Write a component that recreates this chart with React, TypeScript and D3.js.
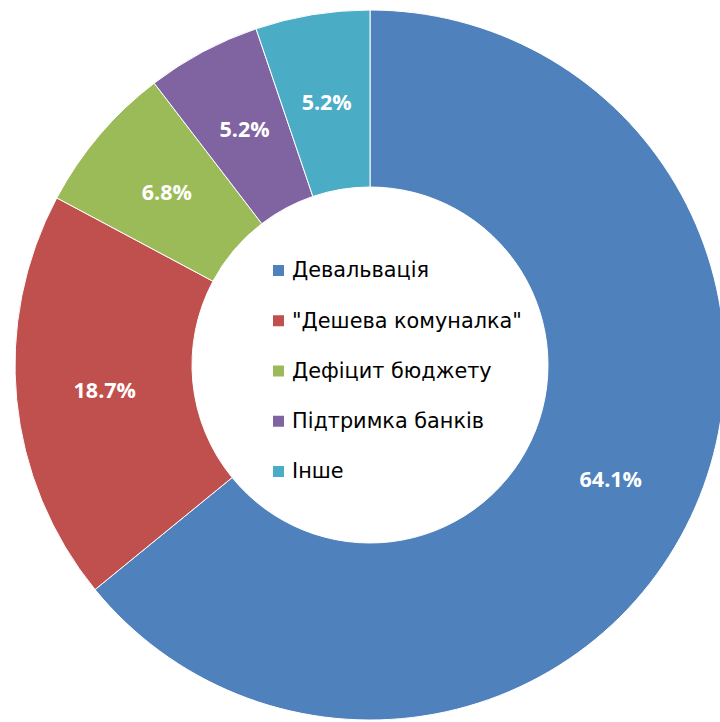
import React from "react";
import * as d3 from "d3";

const categories = ["Девальвація", "\"Дешева комуналка\"", "Дефіцит бюджету", "Підтримка банків", "Інше"];
const values = [64.1, 18.7, 6.8, 5.2, 5.2];
const labels = ["64.1%", "18.7%", "6.8%", "5.2%", "5.2%"];
const colors = ["#4F81BD", "#C0504D", "#9BBB59", "#8064A2", "#4BACC6"];

export default function App() {
  const W = 720, H = 722;
  const cx = 370, cy = 365, rOuter = 355, rInner = 178;
  const pie = d3.pie<number>().sort(null).value((d) => d);
  const arcs = pie(values);
  const arc = d3.arc<d3.PieArcDatum<number>>().innerRadius(rInner).outerRadius(rOuter);
  const legendY = d3.scalePoint<number>().domain(d3.range(categories.length)).range([270, 471]);
  return (
    <svg width={W} height={H} style={{ position: "absolute", left: 0, top: 0, background: "#fff" }}>
      <g transform={`translate(${cx},${cy})`}>
        {arcs.map((a, i) => (
          <path key={i} d={arc(a) || ""} fill={colors[i]} stroke="#fff" strokeWidth={1} />
        ))}
        {arcs.map((a, i) => {
          const [x, y] = arc.centroid(a);
          return (
            <text key={i} x={x} y={y} dy="0.35em" textAnchor="middle" fill="#fff"
              fontFamily="'Open Sans', 'Liberation Sans', sans-serif" fontWeight="bold" fontSize={21.5}>
              {labels[i]}
            </text>
          );
        })}
      </g>
      {categories.map((c, i) => {
        const y = legendY(i) as number;
        return (
          <g key={i}>
            <rect x={273} y={y - 5} width={11} height={11} fill={colors[i]} />
            <text x={292} y={y} dy="0.36em" fill="#000" fontFamily="'DejaVu Sans', sans-serif" fontSize={20.8}>
              {c}
            </text>
          </g>
        );
      })}
    </svg>
  );
}
